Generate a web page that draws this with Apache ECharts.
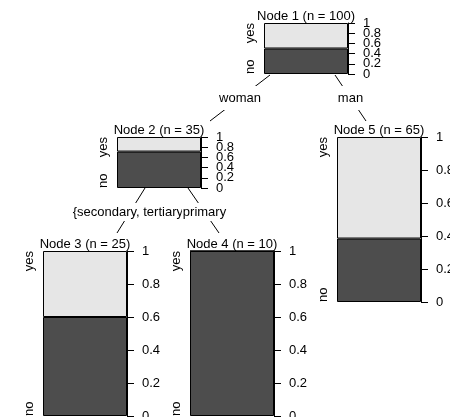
<!DOCTYPE html>
<html>
<head>
<meta charset="utf-8">
<script src="https://cdn.jsdelivr.net/npm/echarts@6/dist/echarts.min.js"></script>
<style>
  html, body { margin: 0; padding: 0; background: #fff; }
  #chart { width: 450px; height: 417px; }
</style>
</head>
<body>
<div id="chart"></div>
<script>
// tree data
const nodeIds = [1, 2, 3, 4, 5];
const nodeN = [100, 35, 25, 10, 65];
const noCount = [50, 25, 15, 10, 25];
const classNames = ['no', 'yes'];
const edgeLabels = ['woman', 'man', '{secondary, tertiary}', 'primary'];
const tickValues = [0, 0.2, 0.4, 0.6, 0.8, 1];

// panel boxes: [left, top, width, height]
const boxes = [
  [264, 23, 84, 51],
  [117, 137, 84, 51],
  [43, 251, 84, 165],
  [190, 251, 84, 165],
  [337, 137, 84, 165]
];
// edge lines: [x1, y1, x2, y2, labelX, labelY, padY]
const edgeGeom = [
  [270, 75, 210, 121, 240, 98, 5],
  [335, 75, 366, 121, 350.5, 98, 5],
  [145, 188, 117, 233, 130, 212, 2],
  [188, 188, 219, 233, 204.5, 212, 2]
];

const font = 'Liberation Sans, Arial, Helvetica, sans-serif';
const dark = '#4d4d4d';
const light = '#e6e6e6';

// labels split over two axes so echarts does not drop the crowded ones
const ticksA = tickValues.filter((v, k) => k % 2 === 0);
const ticksB = tickValues.filter((v, k) => k % 2 === 1);

const chart = echarts.init(document.getElementById('chart'));

const labelStyle = { color: '#000', fontSize: 13, margin: 15, fontFamily: font,
  formatter: v => String(+(+v).toFixed(1)) };

let grid = [], xAxis = [], yAxis = [], series = [];
nodeIds.forEach((id, i) => {
  const b = boxes[i];
  grid.push({ left: b[0], top: b[1], width: b[2], height: b[3],
    containLabel: false, outerBoundsMode: 'none' });
  xAxis.push({
    type: 'category', gridIndex: i, data: [''], position: 'top',
    name: 'Node ' + id + ' (n = ' + nodeN[i] + ')',
    nameLocation: 'middle', nameGap: 0,
    nameTextStyle: { fontSize: 13, color: '#000', fontFamily: font, verticalAlign: 'bottom' },
    axisLine: { show: false }, axisTick: { show: false }, axisLabel: { show: false },
    splitLine: { show: false }
  });
  // right value axis with line and ticks
  yAxis.push({
    type: 'value', gridIndex: i, position: 'right', min: 0, max: 1, interval: 0.2,
    axisLine: { show: true, lineStyle: { color: '#000', width: 1 } },
    axisTick: { show: true, length: 7, lineStyle: { color: '#000', width: 1 } },
    axisLabel: Object.assign({ customValues: ticksA }, labelStyle),
    splitLine: { show: false }
  });
  // second right axis, only the other labels
  yAxis.push({
    type: 'value', gridIndex: i, position: 'right', min: 0, max: 1, interval: 0.2,
    axisLine: { show: false }, axisTick: { show: false },
    axisLabel: Object.assign({ customValues: ticksB }, labelStyle),
    splitLine: { show: false }
  });
  // left class labels
  yAxis.push({
    type: 'category', gridIndex: i, position: 'left', data: classNames, boundaryGap: false,
    axisLine: { show: false }, axisTick: { show: false }, splitLine: { show: false },
    axisLabel: { rotate: 90, color: '#000', fontSize: 13, margin: 7, fontFamily: font,
      alignMinLabel: 'left', alignMaxLabel: 'right', interval: 0 }
  });
  const no = noCount[i] / nodeN[i];
  const yes = (nodeN[i] - noCount[i]) / nodeN[i];
  series.push({
    type: 'bar', xAxisIndex: i, yAxisIndex: 3 * i, stack: 'n' + i,
    data: [no], barWidth: '100%', silent: true,
    itemStyle: { color: dark, borderColor: '#000', borderWidth: 1 }
  });
  series.push({
    type: 'bar', xAxisIndex: i, yAxisIndex: 3 * i, stack: 'n' + i,
    data: [yes], barWidth: '100%', silent: true,
    itemStyle: { color: light, borderColor: '#000', borderWidth: 1 }
  });
});

const graphic = [];
edgeGeom.forEach((e, i) => {
  graphic.push({
    type: 'line', z: 1, silent: true,
    shape: { x1: e[0], y1: e[1], x2: e[2], y2: e[3] },
    style: { stroke: '#000', lineWidth: 1 }
  });
});
edgeGeom.forEach((e, i) => {
  graphic.push({
    type: 'text', z: 2 + i, silent: true, x: e[4], y: e[5],
    style: {
      text: edgeLabels[i], fill: '#000', font: '13px ' + font,
      align: 'center', verticalAlign: 'middle',
      backgroundColor: '#fff', padding: [e[6], 1], lineHeight: 14
    }
  });
});

chart.setOption({
  animation: false,
  backgroundColor: '#fff',
  textStyle: { fontFamily: font },
  grid, xAxis, yAxis, series, graphic
});
</script>
</body>
</html>
